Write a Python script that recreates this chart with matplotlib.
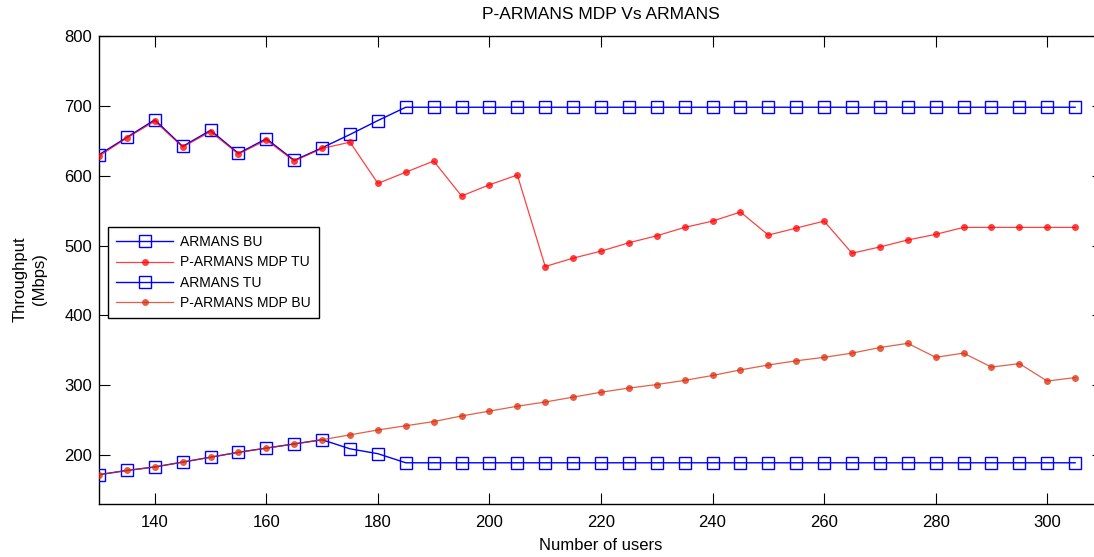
import matplotlib
matplotlib.use("Agg")
import matplotlib.pyplot as plt

plt.rcParams['font.family'] = ['Liberation Sans', 'DejaVu Sans']

# Number of users (x axis)
users = list(range(130, 310, 5))

# Throughput values (Mbps)
armans_bu = [630, 655, 680, 642, 665, 632, 653, 622, 640, 659, 679] + [698] * 25
p_armans_mdp_tu = [628, 654, 678, 641, 663, 631, 651, 621, 639, 648, 589, 605,
                   621, 571, 587, 601, 470, 482, 492, 504, 514, 526, 535, 548,
                   515, 525, 535, 489, 498, 508, 516, 526, 526, 526, 526, 526]
armans_tu = [172, 178, 183, 190, 197, 204, 210, 216, 222, 209, 202] + [189] * 25
p_armans_mdp_bu = [172, 178, 183, 190, 197, 204, 210, 216, 222, 229, 236, 242,
                   248, 256, 263, 270, 276, 283, 290, 296, 301, 307, 314, 322,
                   329, 335, 340, 346, 354, 360, 340, 346, 326, 331, 306, 311]

x_ticks = [140, 160, 180, 200, 220, 240, 260, 280, 300]
y_ticks = [200, 300, 400, 500, 600, 700, 800]

W, H, DPI = 1094, 557, 100
fig = plt.figure(figsize=(W / DPI, H / DPI), dpi=DPI)
ax = fig.add_axes([99 / W, (H - 504) / H, 1004 / W, (504 - 36) / H])

blue = '#0000ff'
red = '#ff0000'
orange_red = '#dd2a08'

ax.plot(users, armans_bu, color=blue, lw=1.0, marker='s', ms=8.6,
        mfc='none', mec=blue, mew=1.0, label='ARMANS BU', zorder=3)
ax.plot(users, p_armans_mdp_tu, color=red, lw=0.9, alpha=0.75, marker='o',
        ms=5, mfc=red, mec=red, mew=0, label='P-ARMANS MDP TU', zorder=4)
ax.plot(users, armans_tu, color=blue, lw=1.0, marker='s', ms=8.6,
        mfc='none', mec=blue, mew=1.0, label='ARMANS TU', zorder=3)
ax.plot(users, p_armans_mdp_bu, color=orange_red, lw=0.9, alpha=0.75,
        marker='o', ms=5, mfc=orange_red, mec=orange_red, mew=0,
        label='P-ARMANS MDP BU', zorder=4)

ax.set_xlim(130, 310)
ax.set_ylim(130, 800)
ax.set_xticks(x_ticks)
ax.set_yticks(y_ticks)
ax.tick_params(direction='in', length=8, width=0.8, top=True, right=True,
               labelsize=12, colors='black')
ax.tick_params(axis='x', pad=8)
ax.tick_params(axis='y', pad=5)
for s in ax.spines.values():
    s.set_linewidth(1.0)
    s.set_color('black')

ax.set_title('P-ARMANS MDP Vs ARMANS', fontsize=12.5, pad=12)
ax.set_xlabel('Number of users', fontsize=12, labelpad=6)
ax.set_ylabel('Throughput\n(Mbps)', fontsize=12, linespacing=1.35)
ax.yaxis.set_label_coords(-0.052, 0.48)

leg = ax.legend(loc='upper left', bbox_to_anchor=(108 / W, 1 - 227 / H),
                bbox_transform=fig.transFigure, borderaxespad=0,
                fontsize=10, handlelength=4.1, handletextpad=0.45,
                labelspacing=0.44, borderpad=0.6, fancybox=False,
                framealpha=1, edgecolor='black', numpoints=1)
leg.get_frame().set_linewidth(1.0)
leg.set_zorder(10)

fig.savefig('out.png', dpi=DPI)
